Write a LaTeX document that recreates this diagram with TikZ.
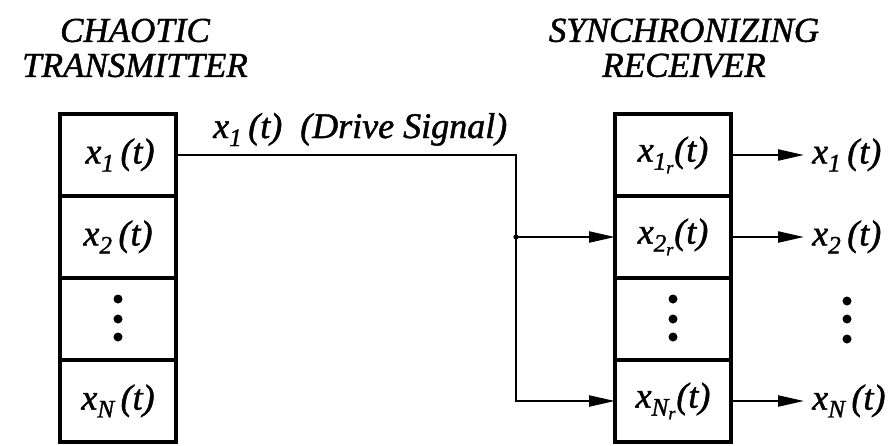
\documentclass[tikz,border=0pt]{standalone}
\usepackage{amsmath}
\usepackage{fontspec}
\setmainfont{Liberation Serif}[ItalicFeatures={FakeBold=1.3}]
\usetikzlibrary{arrows.meta, positioning}

\newcommand{\sig}[1]{\textit{x}$_{\textit{#1}}$\,\textit{(t)}}
\newcommand{\sigr}[1]{\textit{x}$_{\textit{#1}_{\textit{r}}}$\textit{(t)}}

\begin{document}
\begin{tikzpicture}[
  x=1pt, y=-1pt,
  node distance=0pt,
  cell/.style={rectangle, draw, line width=3.4pt, minimum width=116pt, minimum height=82pt, inner sep=0pt, outer sep=0pt, font=\fontsize{36}{40}\selectfont},
  title/.style={align=center, font=\fontsize{35}{35}\selectfont\itshape},
  lbl/.style={font=\fontsize{36}{40}\selectfont, inner sep=0pt},
  wire/.style={line width=2.2pt},
  arrow/.style={-{Triangle[length=26pt,width=11pt]}, line width=2.2pt},
  vdots/.style={circle, fill, inner sep=0pt, minimum size=9pt},
]
\useasboundingbox (0,0) rectangle (893,445);

% transmitter
\node[title] (txtitle) at (135,48) {CHAOTIC\\TRANSMITTER};
\node[cell] (tx1) at (118,155) {\hspace{4pt}\sig{1}};
\node[cell, below=of tx1] (tx2) {\sig{2}};
\node[cell, below=of tx2] (txd) {};
\node[cell, below=of txd] (txN) {\sig{N}};
\foreach \dy [count=\i] in {-18,0,20}
  \node[vdots] (txdot\i) at ([yshift=\dy]txd.center) {};

% receiver
\node[title] (rxtitle) at (684,48) {SYNCHRONIZING\\RECEIVER};
\node[cell] (rx1) at (673,155) {\sigr{1}};
\node[cell, below=of rx1] (rx2) {\sigr{2}};
\node[cell, below=of rx2] (rxd) {};
\node[cell, below=of rxd] (rxN) {\sigr{N}};
\foreach \dy [count=\i] in {-18,0,20}
  \node[vdots] (rxdot\i) at ([yshift=\dy]rxd.center) {};

% outputs
\node[lbl, anchor=west] (out1) at (812,155) {\sig{1}};
\node[lbl, anchor=west] (out2) at (812,237) {\sig{2}};
\node[lbl, anchor=west] (outN) at (812,401) {\sig{N}};
\foreach \dy [count=\i] in {-18,0,20}
  \node[vdots] (outdot\i) at (847,319+\dy) {};

\draw[arrow] (rx1.east) -- ([xshift=-8pt]out1.west);
\draw[arrow] (rx2.east) -- ([xshift=-8pt]out2.west);
\draw[arrow] (rxN.east) -- ([xshift=-8pt]outN.west);

% drive signal
\node[lbl, anchor=base west] (drive) at (213,138) {\sig{1}\ \ \textit{(Drive Signal)}};
\coordinate (split) at (516,237);
\draw[wire] (tx1.east) -| (split);
\draw[arrow] (split) |- (rxN.west);
\draw[arrow] (split) -- (rx2.west);
\fill (split) circle (2.6pt);
\end{tikzpicture}
\end{document}
